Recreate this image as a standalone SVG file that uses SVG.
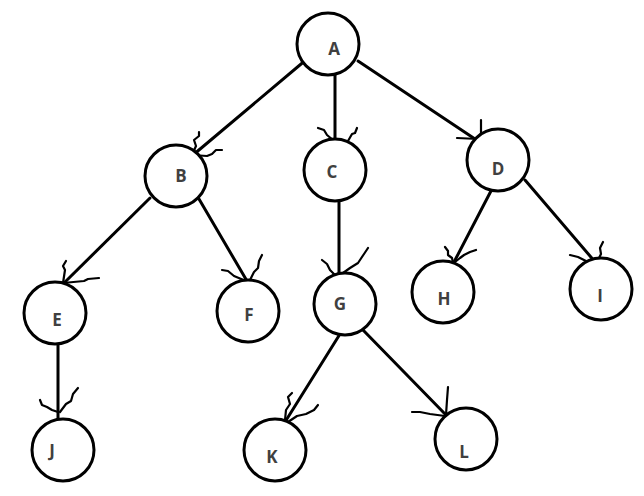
<svg xmlns="http://www.w3.org/2000/svg" width="644" height="496" viewBox="0 0 644 496">
<style>
.n circle{fill:#fff;stroke:#000;stroke-width:3}
.n text{font-family:"Open Sans","DejaVu Sans",sans-serif;font-weight:bold;font-size:17px;fill:#404040;text-anchor:middle;dominant-baseline:central}
.e path{fill:none;stroke:#000;stroke-width:3;stroke-linecap:round;stroke-linejoin:round}
.e path.h{stroke-width:2.2}
</style>
<rect width="644" height="496" fill="#fff"/>
<g id="connectors" class="e">
<path d="M307 59 L193 155"/>
<path class="h" d="M192 155 L196 146 L194 140 L199 136 L199 132"/>
<path class="h" d="M192 155 L207 156 L212 154 L216 150 L222 150"/>
<path d="M335 75 L335 142"/>
<path class="h" d="M318 128 L324 130 L327 135 L333 140"/>
<path class="h" d="M357 128 L355 133 L352 134 L348 141"/>
<path d="M358 61 L478 141"/>
<path class="h" d="M481 120 L481 141"/>
<path class="h" d="M457 138 L478 139"/>
<path d="M150 198 L64 283"/>
<path class="h" d="M63 283 L65 270 L63 266 L66 261"/>
<path class="h" d="M63 283 L84 281 L88 279 L99 278"/>
<path d="M199 199 L247 281"/>
<path class="h" d="M222 270 L228 271 L234 276 L246 281"/>
<path class="h" d="M262 255 L259 261 L258 268 L254 272 L250 280"/>
<path d="M339 200 L339 279"/>
<path class="h" d="M322 260 L327 264 L330 270 L336 276"/>
<path class="h" d="M368 248 L364 254 L358 263 L350 268 L343 273"/>
<path d="M492 189 L453 264"/>
<path class="h" d="M445 247 L448 251 L448 255 L452 258 L453 263"/>
<path class="h" d="M476 250 L470 252 L464 255 L460 258 L455 262"/>
<path d="M525 180 L596 263"/>
<path class="h" d="M603 242 L600 248 L601 254 L597 262"/>
<path class="h" d="M570 255 L578 257 L586 261 L595 263"/>
<path d="M58 344 L58 418"/>
<path class="h" d="M40 400 L42 405 L47 407 L52 410 L58 412"/>
<path class="h" d="M78 388 L73 394 L71 401 L66 404 L60 412"/>
<path d="M340 334 L285 422"/>
<path class="h" d="M292 393 L288 397 L290 404 L286 410 L285 420"/>
<path class="h" d="M318 405 L314 410 L306 414 L297 416 L288 422"/>
<path d="M363 330 L446 415"/>
<path class="h" d="M448 387 L447 400 L446 415"/>
<path class="h" d="M412 412 L420 412 L430 414 L445 416"/>
</g>
<g id="A" class="n"><circle cx="328" cy="44" r="31"/><text x="334" y="48">A</text></g>
<g id="B" class="n"><circle cx="176" cy="176" r="31"/><text x="181" y="175">B</text></g>
<g id="C" class="n"><circle cx="335" cy="170" r="31"/><text x="332" y="171">C</text></g>
<g id="D" class="n"><circle cx="498" cy="160" r="31"/><text x="498" y="168">D</text></g>
<g id="E" class="n"><circle cx="55" cy="313" r="31"/><text x="57" y="319">E</text></g>
<g id="F" class="n"><circle cx="248" cy="311" r="31"/><text x="249" y="314">F</text></g>
<g id="G" class="n"><circle cx="345" cy="304" r="31"/><text x="340" y="303">G</text></g>
<g id="H" class="n"><circle cx="443" cy="292" r="31"/><text x="444" y="298">H</text></g>
<g id="I" class="n"><circle cx="601" cy="289" r="31"/><text x="600" y="295">I</text></g>
<g id="J" class="n"><circle cx="63" cy="450" r="31"/><text x="52" y="450">J</text></g>
<g id="K" class="n"><circle cx="275" cy="450" r="31"/><text x="272" y="456">K</text></g>
<g id="L" class="n"><circle cx="466" cy="439" r="31"/><text x="464" y="451">L</text></g>
</svg>
